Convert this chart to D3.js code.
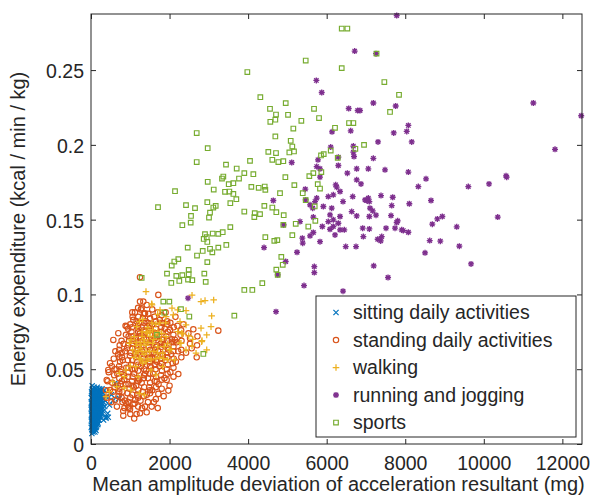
<!DOCTYPE html>
<html>
<head>
<meta charset="utf-8">
<script src="https://cdn.jsdelivr.net/npm/d3@7"></script>
<style>
  body { margin: 0; background: #fff; }
  text { font-family: "Liberation Sans", Arial, Helvetica, sans-serif; fill: #262626; }
</style>
</head>
<body>
<div id="chart"></div>
<script>
document.addEventListener("DOMContentLoaded", () => {

const width = 593;
const height = 500;
const marginTop = 14;
const marginRight = 11;
const marginBottom = 56;
const marginLeft = 91;

// [mean amplitude deviation (mg), energy expenditure (kcal/min/kg)]
const sittingPoints = [
  [20,0.012],[35,0.018],[50,0.022],[60,0.015],[75,0.026],[90,0.02],[110,0.03],[130,0.024],[150,0.017],[170,0.028],
  [190,0.021],[210,0.033],[230,0.026],[250,0.019],[270,0.031],[40,0.03],[65,0.034],[85,0.011],[100,0.008],[120,0.014],
  [140,0.035],[160,0.038],[180,0.032],[200,0.025],[220,0.037],[25,0.025],[55,0.028],[80,0.016],[105,0.022],[125,0.019],
  [145,0.029],[165,0.023],[185,0.027],[205,0.018],[15,0.02],[30,0.009],[45,0.014],[70,0.02],[95,0.026],[115,0.017],
  [135,0.03],[155,0.021],[175,0.013],[195,0.034],[45,0.036],[70,0.031],[95,0.033],[115,0.027],[10,0.016],[28,0.022],
  [58,0.024],[88,0.023],[118,0.025],[148,0.026],[178,0.02],[240,0.028],[260,0.024],[290,0.027],[310,0.022],[330,0.03],
  [350,0.025],[380,0.018],[400,0.032],[425,0.0205],[382,0.0172],[440,0.0179],[229,0.0272],[654,0.040],[611,0.0406],[721,0.0306],
  [695,0.0301],[300,0.034],[280,0.037],[340,0.036],[12,0.028],[18,0.034],[22,0.007],[38,0.012],[52,0.008],[68,0.01],
  [78,0.013],[92,0.015],[102,0.018],[112,0.011],[128,0.009],[142,0.012],[160,0.015],[62,0.019],[82,0.029],[108,0.035],
  [132,0.021],[152,0.033],[172,0.025],[192,0.016],[215,0.022],[235,0.031],[255,0.035],[275,0.021],[320,0.016],[360,0.029],
  [470,0.026],[520,0.033],[560,0.029],[30,0.039],[8,0.024],
  [6,0.011],[10,0.015],[14,0.019],[8,0.023],[12,0.027],[7,0.031],[13,0.035],
  [32,0.010],[36,0.014],[31,0.017],[38,0.021],[34,0.026],[40,0.029],[33,0.033],[37,0.037],
  [57,0.009],[62,0.013],[56,0.016],[64,0.02],[59,0.023],[61,0.027],[55,0.03],[63,0.032],[58,0.036],
  [82,0.012],[88,0.015],[84,0.018],[90,0.021],[81,0.024],[87,0.027],[85,0.031],[89,0.034],[83,0.038],
  [107,0.01],[112,0.013],[105,0.016],[114,0.019],[109,0.023],[106,0.026],[113,0.029],[110,0.032],[108,0.036],
  [132,0.011],[138,0.015],[131,0.018],[136,0.022],[134,0.025],[139,0.028],[133,0.031],[137,0.034],[135,0.037],
  [157,0.013],[163,0.016],[156,0.02],[161,0.024],[158,0.027],[164,0.03],[159,0.034],[162,0.036],
  [182,0.014],[188,0.018],[184,0.022],[186,0.025],[181,0.029],[189,0.033],[185,0.036],
  [207,0.016],[213,0.02],[209,0.024],[211,0.028],[206,0.031],[214,0.035],
  [232,0.018],[238,0.022],[234,0.026],[236,0.03],[233,0.034],
  [262,0.02],[268,0.025],[264,0.029],[266,0.033],
  [302,0.024],[316,0.028],[308,0.031]
];

const standingPoints = [
  [380,0.036],[420,0.042],[450,0.048],[400,0.031],[484,0.0361],[400,0.0428],[440,0.0495],[484,0.054],[611,0.0294],
  [520,0.028],[560,0.035],[540,0.041],[590,0.046],[530,0.052],[580,0.057],[600,0.038],[568,0.0696],[695,0.0741],
  [660,0.025],[700,0.032],[680,0.039],[720,0.044],[650,0.05],[740,0.055],[690,0.06],[730,0.066],[670,0.047],
  [820,0.022],[860,0.029],[800,0.035],[880,0.04],[840,0.046],[900,0.051],[810,0.056],[870,0.062],[830,0.067],
  [890,0.073],[850,0.043],[790,0.058],[909,0.0785],[822,0.0189],
  [960,0.024],[1000,0.031],[980,0.037],[1040,0.042],[950,0.048],[1020,0.053],[990,0.059],[1050,0.064],[970,0.069],
  [1030,0.075],[1000,0.08],[1060,0.045],[940,0.056],[1010,0.061],[950,0.025],[1120,0.0294],[993,0.0232],[1077,0.0268],[1077,0.083],
  [1110,0.027],[1180,0.033],[1150,0.039],[1200,0.044],[1120,0.05],[1170,0.055],[1130,0.06],[1190,0.066],[1140,0.071],
  [1210,0.077],[1160,0.082],[1120,0.088],[1100,0.047],[1150,0.058],[1200,0.063],[1247,0.0952],[1247,0.1115],[1247,0.0205],[1247,0.0741],
  [1260,0.029],[1320,0.035],[1290,0.041],[1350,0.046],[1270,0.052],[1330,0.057],[1300,0.062],[1260,0.068],[1340,0.073],
  [1290,0.078],[1320,0.084],[1270,0.09],[1310,0.054],[1280,0.065],[1332,0.0952],[1290,0.0908],[1375,0.025],[1375,0.0874],
  [1420,0.033],[1480,0.038],[1450,0.044],[1400,0.049],[1500,0.055],[1430,0.06],[1470,0.065],[1410,0.07],[1490,0.076],
  [1440,0.081],[1460,0.087],[1420,0.093],[1500,0.058],[1418,0.0212],[1502,0.0339],[1502,0.0774],
  [1560,0.036],[1620,0.042],[1580,0.047],[1640,0.053],[1570,0.058],[1630,0.063],[1590,0.069],[1650,0.074],[1560,0.08],
  [1610,0.085],[1600,0.061],[1545,0.025],[1714,0.0335],[1673,0.0417],[1714,0.0997],
  [1720,0.04],[1780,0.046],[1740,0.052],[1800,0.057],[1710,0.062],[1770,0.067],[1730,0.072],[1790,0.078],[1750,0.083],
  [1700,0.088],[1841,0.0807],
  [1870,0.044],[1930,0.05],[1890,0.056],[1950,0.061],[1860,0.066],[1920,0.072],[1880,0.077],[1940,0.082],[1927,0.0428],[1969,0.0357],
  [2020,0.048],[2080,0.054],[2040,0.06],[2100,0.065],[2011,0.0763],[2060,0.07],[2020,0.081],[2055,0.0684],
  [2160,0.055],[2220,0.062],[2180,0.068],[2280,0.073],[2200,0.079],[2139,0.0696],[2223,0.0468],
  [2420,0.061],[2520,0.067],[2480,0.074],[2521,0.0707],[2605,0.0767],[2564,0.064],[2691,0.058],[3241,0.0758],
  [760,0.04],[930,0.034],[1090,0.038],[1230,0.043],[1380,0.047],[1530,0.051],[1680,0.055],[1830,0.059],[1980,0.063],
  [760,0.05],[920,0.064],[1080,0.069],[1230,0.072],[1380,0.075],[1540,0.07],[1690,0.066],[1850,0.07],[620,0.062],
  [880,0.079],[1060,0.085],[1230,0.081],[1390,0.082],[1560,0.09],[1900,0.088],[2150,0.085],[2350,0.08],[2300,0.058],
  [2100,0.045],[1800,0.037],[1650,0.03],[1300,0.024],[1160,0.02],[900,0.027],[720,0.035],[600,0.05],
  [720,0.037],[715,0.052],[725,0.058],[718,0.063],
  [780,0.031],[785,0.042],[775,0.048],[782,0.061],[778,0.069],
  [950,0.028],[955,0.04],[945,0.045],[952,0.051],[948,0.066],[957,0.072],[944,0.077],
  [1050,0.033],[1055,0.039],[1045,0.05],[1052,0.056],[1048,0.067],[1056,0.072],[1044,0.078],[1051,0.088],
  [1200,0.031],[1205,0.036],[1195,0.042],[1202,0.049],[1198,0.053],[1206,0.061],[1194,0.068],[1201,0.075],[1197,0.079],[1204,0.085],[1199,0.091],
  [1350,0.032],[1355,0.038],[1345,0.044],[1352,0.05],[1348,0.055],[1356,0.06],[1344,0.066],[1351,0.071],[1347,0.076],[1354,0.081],[1346,0.087],
  [1500,0.036],[1505,0.041],[1495,0.047],[1502,0.052],[1498,0.057],[1506,0.063],[1494,0.068],[1501,0.073],[1497,0.079],[1504,0.084],
  [1650,0.038],[1655,0.045],[1645,0.05],[1652,0.056],[1648,0.06],[1656,0.065],[1644,0.071],[1651,0.077],[1647,0.082],
  [1800,0.043],[1805,0.049],[1795,0.054],[1802,0.06],[1798,0.065],[1806,0.07],[1794,0.075],[1801,0.081],[1797,0.086],
  [1950,0.047],[1955,0.053],[1945,0.058],[1952,0.064],[1948,0.069],[1956,0.075],[1944,0.08],
  [2100,0.051],[2105,0.057],[2095,0.062],[2102,0.068],[2098,0.073],[2106,0.078],
  [2300,0.063],[2305,0.069],[2295,0.076],[2700,0.066],[2710,0.072],
  [1000,0.02],[1100,0.017],[1600,0.028],[1850,0.032],[2000,0.039],[800,0.028],[850,0.024],[1700,0.024],[1450,0.028],[1200,0.025]
];

const walkingPoints = [
  [1400,0.1019],[1553,0.093],[1697,0.0867],[1757,0.0896],[1910,0.0852],[2062,0.0908],[2096,0.0863],[2207,0.0896],
  [2419,0.0892],[2572,0.0995],[2801,0.0952],[2903,0.0959],[3123,0.0963],[3072,0.0856],[2419,0.0796],[2266,0.0818],
  [2207,0.0752],[2334,0.0736],[2487,0.0723],[2589,0.07],[2826,0.0691],[2801,0.0774],[3055,0.0785],[2292,0.0673],
  [2674,0.0607],[2572,0.0656],[2419,0.0629],[2037,0.0633],[2122,0.0562],[1231,0.0818],[1316,0.0834],[1163,0.0785],
  [1103,0.0718],[1018,0.0696],[976,0.0673],[1061,0.0629],[1146,0.0607],[1273,0.0562],[1316,0.054],[1528,0.0495],
  [1655,0.0462],[1825,0.0517],[1952,0.0562],[1995,0.0629],[1825,0.0607],[722,0.0473],[552,0.0417],[467,0.035],
  [382,0.0317],[654,0.0384],[849,0.0373],[1018,0.0361],[1231,0.0339],[1358,0.0328],
  [1358,0.0696],[1570,0.0673],[1485,0.0618],[1697,0.0607],[1231,0.0573],[1528,0.0562],[1782,0.0696],[1867,0.0651],
  [1655,0.0729],[1443,0.074],[1273,0.0662],[1146,0.0517],[891,0.0495],[1570,0.0763],[1910,0.0718],
  [1545,0.0937],[2946,0.0729],[2818,0.0684],[2946,0.0629],[2309,0.0741],[2266,0.0674],
  [1100,0.058],[1250,0.064],[1400,0.066],[1600,0.07],[1450,0.078],[1300,0.072],[1700,0.065],[1800,0.074],[1950,0.067],
  [1150,0.066],[1500,0.072],[1650,0.08],[1350,0.06],[1000,0.052],[850,0.045],[1200,0.045],[1400,0.055],[1750,0.058],
  [1150,0.068],[1250,0.068],[1350,0.068],[1450,0.068],[1200,0.062],[1300,0.062],[1400,0.062],[1500,0.062],[1600,0.062],
  [1300,0.075],[1400,0.075],[1500,0.075],[1700,0.075],[1250,0.057],[1450,0.057],[1650,0.057],[1850,0.057],
  [1550,0.081],[1750,0.081],[1900,0.081]
];

const runningPoints = [
  [7783,0.2865],[7256,0.261],[7188,0.228],[7757,0.226],[6849,0.223],[8079,0.213],[7707,0.208],[8038,0.209],[7307,0.202],
  [8165,0.202],[7188,0.191],[11261,0.228],[12480,0.2195],[11813,0.197],
  [6713,0.2627],[5737,0.2431],[5874,0.235],[6561,0.2243],[6790,0.223],[6136,0.2087],[6612,0.2094],[6103,0.1985],
  [6679,0.1992],[6679,0.1951],[6696,0.1922],[6297,0.1918],[5779,0.19],[5110,0.1882],
  [5746,0.1855],[5830,0.184],[6297,0.1862],[6526,0.1811],[6764,0.184],[5830,0.1784],[6230,0.1733],[6255,0.1717],
  [6764,0.1766],[5456,0.1704],[6340,0.1688],[4641,0.1628],[5746,0.1644],[5703,0.1621],[5466,0.1632],[6041,0.1654],
  [6169,0.1666],[6416,0.1621],[6663,0.1654],[5576,0.1599],[5644,0.1577],[5915,0.1588],[6128,0.1577],[6637,0.1554],
  [6764,0.1525],[6085,0.1532],[5660,0.1517],[6340,0.1521],[5321,0.1487],[6041,0.1487],[6169,0.1499],[6297,0.1476],
  [5889,0.1454],[6085,0.1436],[6169,0.1454],[6340,0.1432],[6449,0.1432],[4906,0.1465],[5660,0.1414],[5576,0.1392],
  [5380,0.1376],[5390,0.1343],[5830,0.1353],[6212,0.1398],[6485,0.132],[6747,0.132],[4405,0.1313],[5245,0.1282],
  [4957,0.122],[5685,0.1186],[5685,0.1146],[4753,0.1131],[5423,0.1059],[6416,0.1022],[2470,0.0975],[4710,0.0885],
  [7060,0.184],[7485,0.1833],[8079,0.1818],[8529,0.1773],[10566,0.1793],[10583,0.1784],[6874,0.1739],[8333,0.1721],
  [9606,0.1721],[10133,0.1739],[6976,0.1632],[7060,0.1644],[7086,0.1621],[7019,0.1628],[7383,0.1661],[7681,0.165],
  [7656,0.1594],[8104,0.1606],[8656,0.1628],[7103,0.1577],[7172,0.1559],[7086,0.1521],[7256,0.153],[7638,0.1527],
  [7808,0.1492],[7783,0.1481],[8817,0.1505],[8944,0.1521],[8689,0.147],[9311,0.1452],[10355,0.1517],[6917,0.1443],
  [7086,0.1438],[7511,0.1443],[7740,0.1443],[7910,0.1432],[7951,0.1427],[8079,0.1416],[6933,0.1387],[7401,0.1387],
  [7299,0.1369],[7376,0.1358],[8623,0.136],[8893,0.1356],[9377,0.1323],[8504,0.1278],[7197,0.1191],[9675,0.1204],[7562,0.1113]
];

const sportsPoints = [
  [7270,0.261],[7468,0.242],[7842,0.2335],[7613,0.222],[6951,0.200],
  [6383,0.2778],[6526,0.2778],[5466,0.2564],[6383,0.2513],[3980,0.2487],[4311,0.2319],[4957,0.2279],[4557,0.2241],
  [4710,0.2203],[5016,0.2201],[5678,0.2241],[5805,0.2179],[5355,0.2161],[4693,0.2168],[4565,0.2154],[6569,0.2146],
  [6679,0.2146],[5151,0.2109],[6212,0.2114],[2691,0.2079],[4693,0.2056],[5084,0.2027],[2971,0.1978],[5125,0.1989],
  [4514,0.1953],[4710,0.1945],[5049,0.1949],[5168,0.1956],[5856,0.1929],[5925,0.1938],[6103,0.1962],[6730,0.1974],
  [2691,0.1885],[4048,0.1893],[4616,0.19],[4769,0.1885],[4896,0.1891],[6281,0.1913],[3437,0.1868],
  [3709,0.1842],[3335,0.1775],[3369,0.1788],[3903,0.1811],[4133,0.1804],[3768,0.1775],[4948,0.1784],[2971,0.1753],
  [3506,0.1737],[3624,0.1744],[2139,0.169],[3124,0.1701],[3412,0.1686],[3522,0.1688],[3624,0.1672],[4082,0.1719],
  [4269,0.1713],[4422,0.1721],[4438,0.1699],[5177,0.1731],[4812,0.1677],[3700,0.1637],[2419,0.1597],[2648,0.1577],
  [2961,0.1617],[3175,0.1592],[3114,0.1581],[3547,0.161],[4413,0.1592],[4616,0.1581],[5390,0.1677],[5466,0.163],
  [5558,0.1791],[5660,0.1811],[5772,0.1737],[5830,0.1708],[5864,0.1818],[5695,0.1588],[3030,0.1547],[3004,0.1514],
  [2546,0.1525],[3903,0.1554],[4168,0.1543],[4303,0.1537],[4158,0.1517],[4718,0.155],[4906,0.153],[2538,0.148],
  [2325,0.1463],[3547,0.145],[4896,0.1465],[5212,0.1472],[5532,0.1454],[5711,0.1492],[2902,0.1403],[2946,0.1383],
  [2869,0.1371],[2961,0.1351],[3098,0.1407],[3241,0.1405],[3353,0.1416],[3445,0.1331],[2462,0.1313],[3241,0.1313],
  [3030,0.1305],[2844,0.1291],[3089,0.1282],[4438,0.1383],[4667,0.1358],[4743,0.1363],[5125,0.1396],[2699,0.126],
  [2223,0.1236],[2121,0.122],[2055,0.1193],[2961,0.1216],[4845,0.1251],[4881,0.1198],[1935,0.1139],[2172,0.1124],
  [2325,0.1129],[2487,0.1135],[2487,0.1164],[2470,0.1099],[2579,0.1095],[2885,0.1139],[2920,0.1084],[2044,0.1077],
  [2248,0.109],[4718,0.1166],[4753,0.1131],[3903,0.103],[4107,0.103],[4361,0.1075],
  [1290,0.111],[1841,0.0952],[1994,0.0952],[2291,0.0901],[2503,0.0852],[1866,0.0878],[2860,0.0602],[1680,0.073],
  [3649,0.0858],[1706,0.1583]
];

const xTicks = [0, 2000, 4000, 6000, 8000, 10000, 12000];
const yTicks = [0, 0.05, 0.1, 0.15, 0.2, 0.25];
const yTickLabels = ["0", "0.05", "0.1", "0.15", "0.2", "0.25"];

const seriesNames = ["sitting daily activities", "standing daily activities", "walking", "running and jogging", "sports"];
const seriesColors = ["#0072BD", "#D95319", "#EDB120", "#7E2F8E", "#77AC30"];

const series = [
  { name: seriesNames[0], color: seriesColors[0], marker: "x", points: sittingPoints, sw: 1.15 },
  { name: seriesNames[1], color: seriesColors[1], marker: "o", points: standingPoints, sw: 1.15 },
  { name: seriesNames[2], color: seriesColors[2], marker: "+", points: walkingPoints, sw: 1.25 },
  { name: seriesNames[3], color: seriesColors[3], marker: "*", points: runningPoints, sw: 1.35 },
  { name: seriesNames[4], color: seriesColors[4], marker: "s", points: sportsPoints, sw: 1.15 }
];

// marker outlines like matlab's
function markerPath(m) {
  if (m === "x") return "M-2.6,-2.6L2.6,2.6M-2.6,2.6L2.6,-2.6";
  if (m === "+") return "M-3.3,0L3.3,0M0,-3.3L0,3.3";
  if (m === "*") return "M-3,0L3,0M0,-3L0,3M-2.2,-2.2L2.2,2.2M-2.2,2.2L2.2,-2.2";
  if (m === "s") return "M-2.3,-2.3H2.3V2.3H-2.3Z";
  return "M2.7,0A2.7,2.7 0 1,1 -2.7,0A2.7,2.7 0 1,1 2.7,0Z";
}

const x = d3.scaleLinear()
  .domain([0, 12500])
  .range([marginLeft, width - marginRight]);

const y = d3.scaleLinear()
  .domain([0, 0.2875])
  .range([height - marginBottom, marginTop]);

const svg = d3.create("svg")
  .attr("width", width)
  .attr("height", height);

svg.append("rect")
  .attr("width", width)
  .attr("height", height)
  .attr("fill", "#fff");

// points
series.forEach(s => {
  svg.append("g")
    .selectAll("path")
    .data(s.points)
    .join("path")
    .attr("transform", d => `translate(${x(d[0])},${y(d[1])})`)
    .attr("d", markerPath(s.marker))
    .attr("fill", "none")
    .attr("stroke", s.color)
    .attr("stroke-width", s.sw);
});

// axes, ticks pointing inward
const axisColor = "#262626";

const gx = svg.append("g")
  .attr("transform", `translate(0,${height - marginBottom})`)
  .call(d3.axisBottom(x).tickValues(xTicks).tickSize(-5).tickPadding(12).tickFormat(d3.format("d")));
gx.selectAll("text").attr("font-size", "19.5px");

const gy = svg.append("g")
  .attr("transform", `translate(${marginLeft},0)`)
  .call(d3.axisLeft(y).tickValues(yTicks).tickSize(-5).tickPadding(7).tickFormat((d, i) => yTickLabels[i]));
gy.selectAll("text").attr("font-size", "19.5px").attr("dy", "0.38em");

svg.append("g")
  .attr("transform", `translate(0,${marginTop})`)
  .call(d3.axisTop(x).tickValues(xTicks).tickSize(-5).tickFormat(""));

svg.append("g")
  .attr("transform", `translate(${width - marginRight},0)`)
  .call(d3.axisRight(y).tickValues(yTicks).tickSize(-5).tickFormat(""));

svg.selectAll(".domain").remove();
svg.selectAll(".tick line").attr("stroke", axisColor);
svg.selectAll(".tick text").attr("fill", axisColor).style("font-family", '"Liberation Sans", Arial, sans-serif');

svg.append("rect")
  .attr("x", marginLeft)
  .attr("y", marginTop)
  .attr("width", width - marginRight - marginLeft)
  .attr("height", height - marginBottom - marginTop)
  .attr("fill", "none")
  .attr("stroke", axisColor)
  .attr("stroke-width", 1);

// axis titles
svg.append("text")
  .attr("x", (marginLeft + width - marginRight) / 2 + 2)
  .attr("y", 491)
  .attr("text-anchor", "middle")
  .attr("font-size", "20px")
  .text("Mean amplitude deviation of acceleration resultant (mg)");

svg.append("text")
  .attr("transform", `translate(25,${(marginTop + height - marginBottom) / 2}) rotate(-90)`)
  .attr("text-anchor", "middle")
  .attr("font-size", "20px")
  .text("Energy expenditure (kcal / min / kg)");

// legend
const legend = svg.append("g");
legend.append("rect")
  .attr("x", 316)
  .attr("y", 296)
  .attr("width", 260)
  .attr("height", 141)
  .attr("fill", "#fff")
  .attr("stroke", axisColor)
  .attr("stroke-width", 1);

const rowY = d3.scalePoint().domain(seriesNames).range([312.5, 422.5]);

series.forEach(s => {
  legend.append("path")
    .attr("transform", `translate(336,${rowY(s.name)})`)
    .attr("d", markerPath(s.marker))
    .attr("fill", "none")
    .attr("stroke", s.color)
    .attr("stroke-width", s.sw);
  legend.append("text")
    .attr("x", 353)
    .attr("y", rowY(s.name))
    .attr("dy", "0.35em")
    .attr("font-size", "19.5px")
    .text(s.name);
});

document.getElementById("chart").append(svg.node());
});
</script>
</body>
</html>
